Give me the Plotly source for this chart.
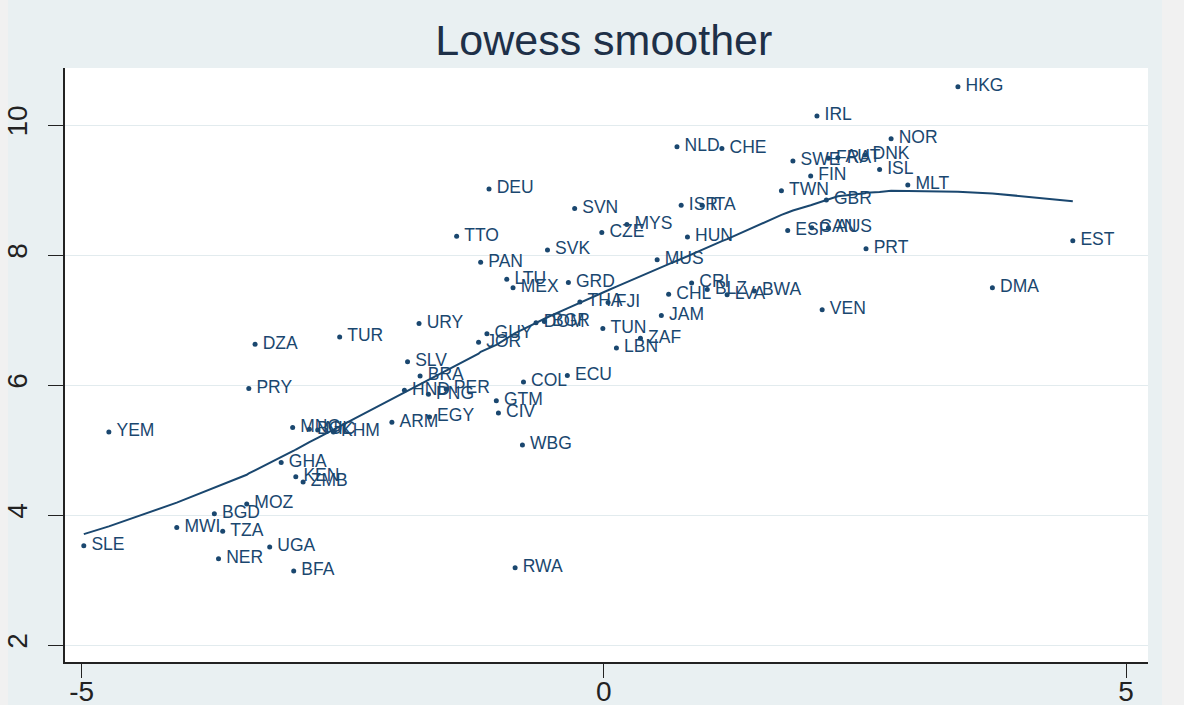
import numpy as np
import plotly.graph_objects as go

# Country codes with x (horizontal variable) and y (vertical variable)
countries = [
    "HKG", "IRL", "NOR", "NLD", "CHE", "SWE", "FRA", "AUT", "DNK", "ISL",
    "FIN", "MLT", "TWN", "GBR", "ISR", "ITA", "MYS", "HUN", "ESP", "CAN",
    "AUS", "PRT", "MUS", "EST", "DMA", "VEN", "DEU", "SVN", "CZE", "TTO",
    "SVK", "PAN", "LTU", "MEX", "GRD", "THA", "FJI", "URY", "DOM", "BGR",
    "TUN", "GUY", "JOR", "ZAF", "LBN", "CHL", "CRI", "BLZ", "LVA", "BWA",
    "JAM", "SLV", "BRA", "ECU", "COL", "HND", "PNG", "PER", "GTM", "CIV",
    "EGY", "ARM", "WBG", "DZA", "TUR", "PRY", "YEM", "MNG", "BOL", "NIC",
    "KHM", "GHA", "KEN", "ZMB", "MOZ", "BGD", "MWI", "TZA", "SLE", "UGA",
    "NER", "BFA", "RWA",
]
x_vals = [
    3.39, 2.04, 2.75, 0.70, 1.13, 1.81, 2.15, 2.24, 2.50, 2.64,
    1.98, 2.91, 1.70, 2.13, 0.74, 0.94, 0.22, 0.80, 1.76, 1.99,
    2.15, 2.51, 0.51, 4.49, 3.72, 2.09, -1.10, -0.28, -0.02, -1.41,
    -0.54, -1.18, -0.93, -0.87, -0.34, -0.23, 0.04, -1.77, -0.65, -0.57,
    -0.01, -1.12, -1.20, 0.35, 0.12, 0.62, 0.84, 0.99, 1.18, 1.44,
    0.55, -1.88, -1.76, -0.35, -0.77, -1.91, -1.68, -1.51, -1.03, -1.01,
    -1.67, -2.03, -0.78, -3.34, -2.53, -3.40, -4.74, -2.98, -2.82, -2.74,
    -2.59, -3.09, -2.95, -2.88, -3.42, -3.73, -4.09, -3.65, -4.98, -3.20,
    -3.69, -2.97, -0.85,
]
y_vals = [
    10.59, 10.14, 9.79, 9.67, 9.64, 9.45, 9.49, 9.50, 9.54, 9.32,
    9.22, 9.08, 8.99, 8.85, 8.77, 8.77, 8.47, 8.28, 8.38, 8.42,
    8.42, 8.10, 7.93, 8.22, 7.50, 7.16, 9.02, 8.72, 8.35, 8.29,
    8.08, 7.89, 7.63, 7.50, 7.58, 7.28, 7.27, 6.95, 6.96, 6.98,
    6.87, 6.79, 6.66, 6.72, 6.57, 7.40, 7.57, 7.47, 7.39, 7.45,
    7.07, 6.36, 6.14, 6.15, 6.05, 5.92, 5.86, 5.94, 5.76, 5.57,
    5.51, 5.43, 5.08, 6.63, 6.74, 5.95, 5.28, 5.35, 5.32, 5.31,
    5.28, 4.81, 4.59, 4.51, 4.17, 4.02, 3.81, 3.75, 3.53, 3.51,
    3.33, 3.14, 3.19,
]

x_ticks = [-5, 0, 5]
x_tick_text = ["-5", "0", "5"]
y_ticks = [2, 4, 6, 8, 10]

NAVY = "#1a476f"
FONT = "Liberation Sans, Arial, sans-serif"


def lowess(x, y, bwidth=0.8):
    """Running-line smoother with tricube weights over a symmetric neighbourhood."""
    order = np.argsort(x, kind="stable")
    xs = np.asarray(x, float)[order]
    ys = np.asarray(y, float)[order]
    n = len(xs)
    k = int(np.floor((n * bwidth - 0.5) / 2))
    fit = np.empty(n)
    for i in range(n):
        lo, hi = max(0, i - k), min(n - 1, i + k)
        xw, yw = xs[lo:hi + 1], ys[lo:hi + 1]
        delta = 1.0001 * max(xs[hi] - xs[i], xs[i] - xs[lo])
        u = np.abs(xw - xs[i]) / delta
        w = np.where(u < 1, (1 - u ** 3) ** 3, 0.0)
        sw = w.sum()
        xm = (w * xw).sum() / sw
        ym = (w * yw).sum() / sw
        sxx = (w * (xw - xm) ** 2).sum()
        b = (w * (xw - xm) * (yw - ym)).sum() / sxx if sxx > 0 else 0.0
        fit[i] = ym + b * (xs[i] - xm)
    return xs, fit


smooth_x, smooth_y = lowess(x_vals, y_vals)

fig = go.Figure()
fig.add_trace(go.Scatter(
    x=x_vals, y=y_vals, text=["\u2009" + c for c in countries],
    mode="markers+text", textposition="middle right",
    marker=dict(color=NAVY, size=5),
    textfont=dict(family=FONT, size=17.5, color=NAVY),
    hovertext=countries, hoverinfo="text", showlegend=False,
))
fig.add_trace(go.Scatter(
    x=smooth_x, y=smooth_y, mode="lines",
    line=dict(color=NAVY, width=2), showlegend=False, hoverinfo="skip",
))

fig.update_layout(
    width=1184, height=705,
    margin=dict(l=65, r=36, t=68, b=43, autoexpand=False),
    paper_bgcolor="#f1f1f1",
    plot_bgcolor="white",
    title=dict(text="Lowess smoother", x=0.51, xanchor="center", y=0.943, yanchor="middle",
               font=dict(family=FONT, size=43, color="#1e3048")),
    shapes=[
        # graph region band
        dict(type="rect", xref="paper", yref="paper", x0=-0.0526, x1=1.0129,
             y0=-0.0724, y1=1.1145, fillcolor="#e9f0f2", line=dict(width=0), layer="below"),
        # white plot region
        dict(type="rect", xref="paper", yref="paper", x0=0, x1=1, y0=0, y1=1,
             fillcolor="white", line=dict(width=0), layer="below"),
    ],
    xaxis=dict(range=[-5.16, 5.21], tickvals=x_ticks, ticktext=x_tick_text,
               showgrid=False, zeroline=False, automargin=False,
               showline=True, linecolor="#222", linewidth=1.5, ticks="outside",
               ticklen=14, tickcolor="#222", ticklabelstandoff=-10,
               tickfont=dict(family="Liberation Sans Narrow, " + FONT, size=28, color="#222")),
    yaxis=dict(range=[1.74, 10.88], tickvals=y_ticks, showgrid=True, gridcolor="#e2ebee",
               gridwidth=1, zeroline=False, automargin=False, showline=True,
               linecolor="#222", linewidth=1.5,
               ticks="outside", ticklen=15, tickcolor="#222", tickangle=-90,
               ticklabelstandoff=10,
               tickfont=dict(family=FONT, size=28, color="#222")),
)

fig.write_html("out.html")
